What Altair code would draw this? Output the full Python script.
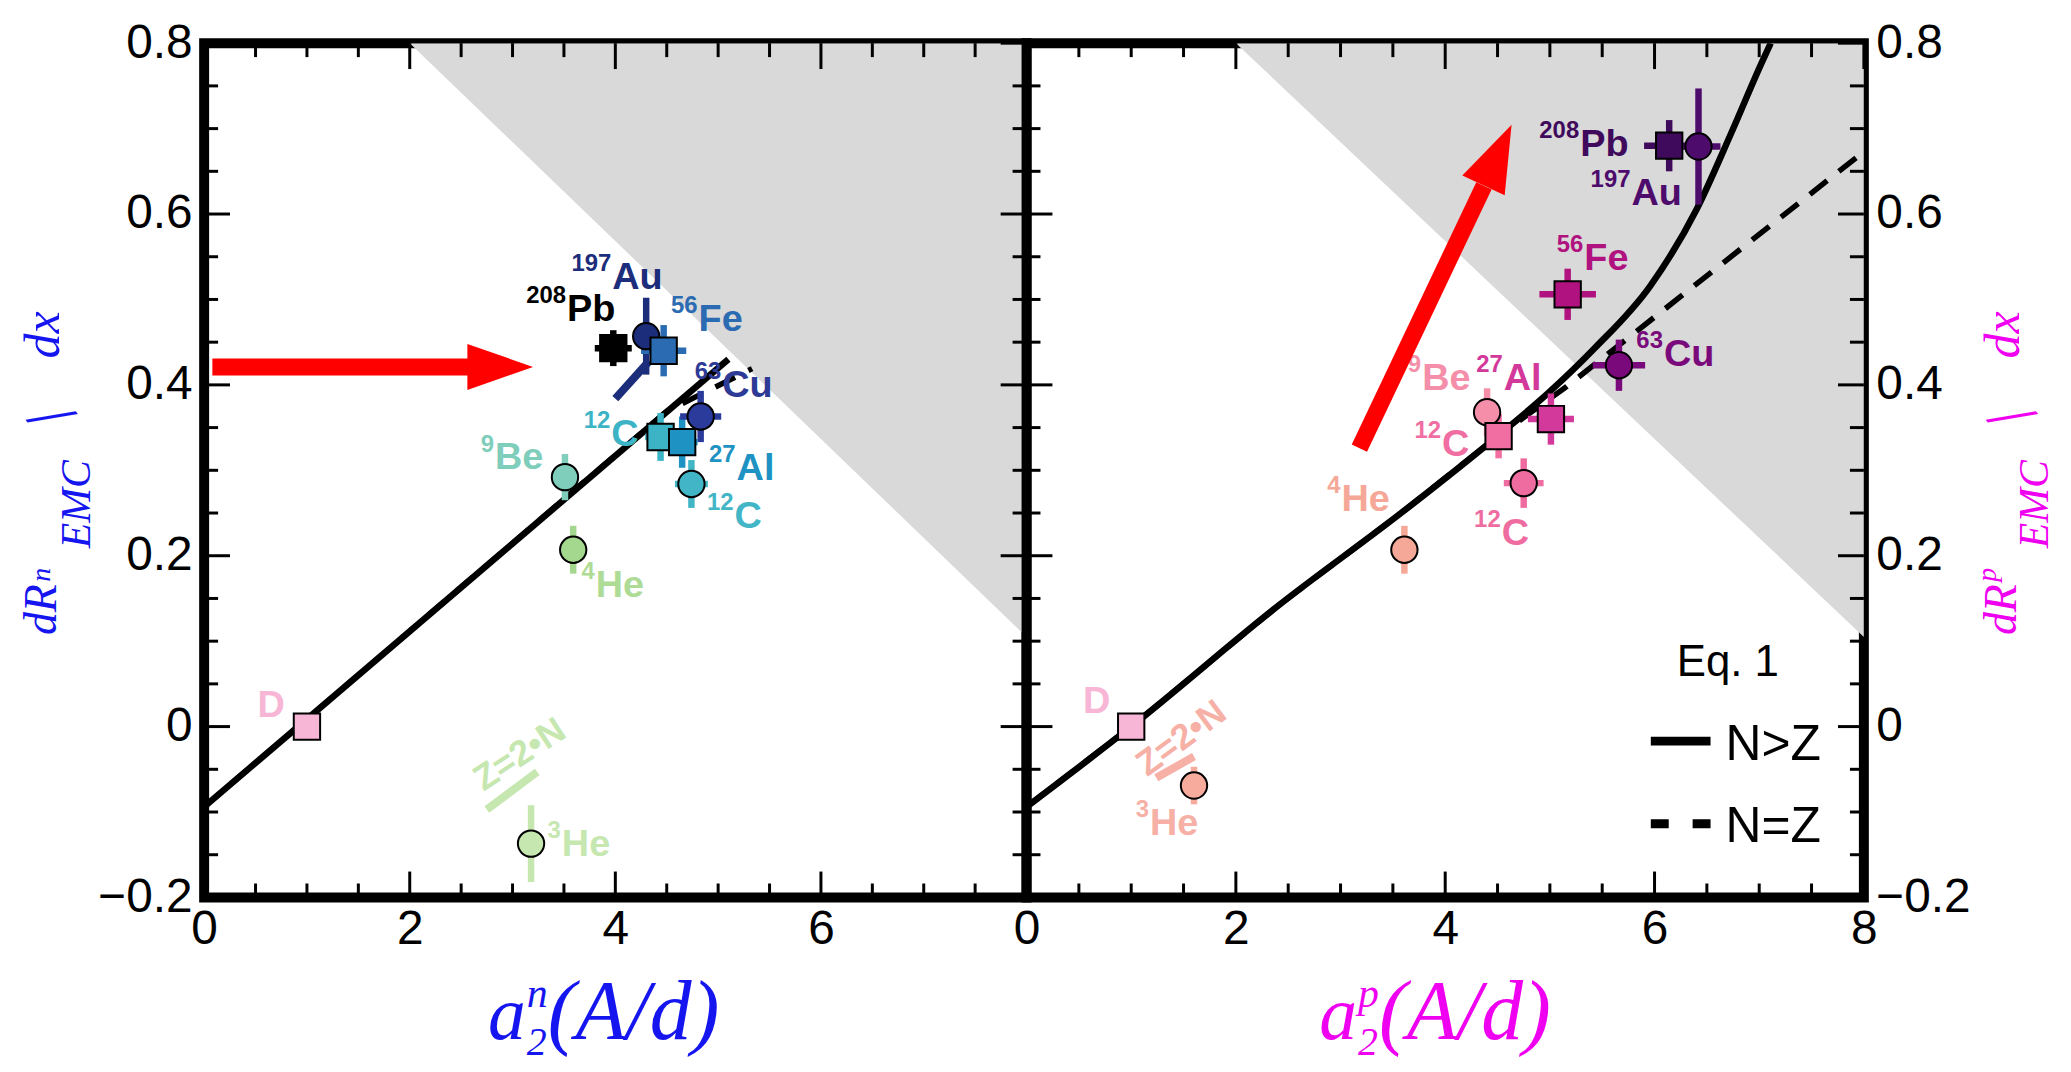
import altair as alt
import pandas as pd

# ---------------- tick values ----------------
X_MAJOR = [0, 2, 4, 6, 8]
X_MINOR = [0.5, 1, 1.5, 2.5, 3, 3.5, 4.5, 5, 5.5, 6.5, 7, 7.5]
Y_MAJOR = [-0.2, 0, 0.2, 0.4, 0.6, 0.8]
Y_MINOR = [-0.15, -0.1, -0.05, 0.05, 0.1, 0.15, 0.25, 0.3, 0.35, 0.45, 0.5,
           0.55, 0.65, 0.7, 0.75]

# ---------------- left panel (neutrons) ----------------
N_NUC = ["D", "3He", "4He", "9Be", "12C", "63Cu", "12C", "27Al", "197Au", "56Fe", "208Pb"]
N_SHAPE = ["square", "circle", "circle", "circle", "circle", "circle", "square",
           "square", "circle", "square", "square"]
N_X = [1.00, 3.18, 3.59, 3.51, 4.74, 4.83, 4.44, 4.65, 4.30, 4.47, 3.98]
N_Y = [0.000, -0.137, 0.207, 0.292, 0.284, 0.363, 0.339, 0.333, 0.457, 0.440, 0.443]
N_XERR = [0, 0, 0, 0, 0.16, 0.20, 0.15, 0.15, 0.10, 0.22, 0.18]
N_YERR = [0, 0.045, 0.028, 0.027, 0.028, 0.030, 0.028, 0.030, 0.045, 0.030, 0.021]
N_COLOR = ["#f7b6d5", "#c6e7b0", "#a3d88e", "#7fcdbb", "#42b5c6", "#2b3b9c",
           "#3db3c6", "#1e92c2", "#1c2d7c", "#2b6bb2", "#000000"]
N_LAB_SUP = ["", "3", "4", "9", "12", "63", "12", "27", "197", "56", "208"]
N_LAB_SYM = ["D", "He", "He", "Be", "C", "Cu", "C", "Al", "Au", "Fe", "Pb"]
N_LAB_X = [0.51, 3.47, 3.80, 2.82, 5.15, 5.03, 3.95, 5.17, 3.96, 4.80, 3.52]
N_LAB_Y = [0.011, -0.151, 0.152, 0.301, 0.233, 0.386, 0.328, 0.289, 0.512, 0.463, 0.475]
N_LAB_COLOR = ["#f7b6d5", "#c6e7b0", "#aedc96", "#7fcdbb", "#42b5c6", "#2d3a96",
               "#3db3c6", "#1e92c2", "#1c2d7c", "#2b6bb2", "#000000"]
N_SEG_X1, N_SEG_Y1, N_SEG_X2, N_SEG_Y2 = [4.33], [0.428], [4.00], [0.384]
N_SEG_COLOR = ["#1c2d7c"]
N_SOLID_X = [0.0, 5.10]
N_SOLID_Y = [-0.094, 0.430]
N_DASH_X = [0.0, 4.50, 5.33]
N_DASH_Y = [-0.094, 0.369, 0.419]
N_ZN = {"x": 3.07, "y": -0.033, "angle": 326.7, "color": "#c6e7b0",
        "lx1": 2.75, "ly1": -0.097, "lx2": 3.24, "ly2": -0.053}

# ---------------- right panel (protons) ----------------
P_NUC = ["D", "3He", "4He", "9Be", "12C", "12C", "27Al", "63Cu", "56Fe", "208Pb", "197Au"]
P_SHAPE = ["square", "circle", "circle", "circle", "circle", "square", "square",
           "circle", "square", "square", "circle"]
P_X = [1.00, 1.60, 3.61, 4.40, 4.75, 4.51, 5.01, 5.66, 5.17, 6.14, 6.42]
P_Y = [0.000, -0.069, 0.207, 0.368, 0.285, 0.340, 0.360, 0.423, 0.506, 0.680, 0.679]
P_XERR = [0, 0, 0, 0.07, 0.19, 0.09, 0.22, 0.25, 0.27, 0.24, 0.21]
P_YERR = [0, 0.022, 0.028, 0.028, 0.029, 0.026, 0.030, 0.030, 0.030, 0.030, 0.068]
P_COLOR = ["#f7b6d5", "#f6ab9d", "#f6a898", "#f48ea9", "#ee6c9f", "#f06ea1",
           "#d3399a", "#7a0a7b", "#b0127f", "#400a5c", "#4d0b6c"]
P_LAB_SUP = ["", "3", "4", "9", "12", "12", "27", "63", "56", "208", "197"]
P_LAB_SYM = ["D", "He", "He", "Be", "C", "C", "Al", "Cu", "Fe", "Pb", "Au"]
P_LAB_X = [0.53, 1.17, 3.00, 3.77, 4.53, 3.96, 4.55, 6.08, 5.32, 5.28, 5.77]
P_LAB_Y = [0.016, -0.127, 0.252, 0.394, 0.213, 0.317, 0.394, 0.422, 0.534, 0.668, 0.611]
P_LAB_COLOR = ["#f7b6d5", "#f6b0a6", "#f6a898", "#f48ea9", "#ee6c9f", "#f06ea1",
               "#d3399a", "#7a0a7b", "#b0127f", "#400a5c", "#4d0b6c"]
P_SOLID_X = [0.0, 1.0, 2.41, 3.60, 4.47, 4.98, 5.42, 5.96, 6.40, 6.73, 7.02, 7.11]
P_SOLID_Y = [-0.094, 0.0, 0.142, 0.252, 0.337, 0.390, 0.442, 0.516, 0.605, 0.694, 0.776, 0.80]
P_DASH_X = [0.0, 1.0, 2.41, 3.60, 4.47, 5.16, 8.0]
P_DASH_Y = [-0.094, 0.0, 0.142, 0.252, 0.337, 0.398, 0.673]
P_ZN = {"x": 1.48, "y": -0.014, "angle": 323.7, "color": "#f6b0a6",
        "lx1": 1.24, "ly1": -0.060, "lx2": 1.60, "ly2": -0.035}

# shaded region and arrows
SHADE_X = [2.0, 8.0]
SHADE_Y = [0.80, 0.105]
N_ARROW = {"x1": 0.08, "y1": 0.421, "x2": 2.60, "y2": 0.421, "hx": 2.88, "hy": 0.421,
           "angle": 0, "size": 4356}
P_ARROW = {"x1": 3.18, "y1": 0.326, "x2": 4.37, "y2": 0.633, "hx": 4.50, "hy": 0.669,
           "angle": 294.9, "size": 4489}

H = 858
SERIF = "Liberation Serif"
SANS = "Liberation Sans"
ARROW_PATH = "M-1,-0.7L1,0L-1,0.7Z"


def ptext(text, px, py, size, color, font=SANS, style="normal", weight="normal",
          align="center", angle=0):
    return alt.Chart(pd.DataFrame({"t": [text]})).mark_text(
        align=align, baseline="alphabetic", fontSize=size, font=font,
        fontStyle=style, fontWeight=weight, angle=angle, color=color
    ).encode(x=alt.value(px), y=alt.value(py), text="t:N")


def make_panel(side, W, nuc, shape, xs_, ys_, xerr, yerr, cols, lsup, lsym, lx, ly, lcol,
               solid_x, solid_y, dash_x, dash_y, zn, arrow, title_color, segs=None):
    xsc = alt.Scale(domain=[0, 8], nice=False, zero=False)
    ysc = alt.Scale(domain=[-0.2, 0.8], nice=False, zero=False)
    xvals = [0, 2, 4, 6] if side == "left" else [0, 2, 4, 6, 8]
    xax = alt.Axis(values=xvals, title="", ticks=False, domain=False, grid=False,
                   labelFontSize=48, labelFont=SANS, labelColor="black",
                   labelPadding=8, labelFlush=False, labelOverlap=False)
    yax = alt.Axis(orient=side, values=Y_MAJOR, title="", ticks=False, domain=False,
                   grid=False, labelFontSize=48, labelFont=SANS, labelColor="black",
                   labelPadding=12, labelFlush=False, labelOverlap=False,
                   labelExpr="datum.value == 0 ? '0' : (datum.value < 0 ? '\u2212' + format(-datum.value, '.1f') : format(datum.value, '.1f'))")

    def X(f):
        return alt.X(f, type="quantitative", scale=xsc, axis=xax)

    def Y(f):
        return alt.Y(f, type="quantitative", scale=ysc, axis=yax)

    layers = []
    sh = pd.DataFrame({"x": SHADE_X, "y": SHADE_Y, "top": [0.8] * len(SHADE_X)})
    layers.append(alt.Chart(sh).mark_area(color="#d9d9d9", clip=True).encode(
        x=X("x"), y=Y("y"), y2=alt.Y2("top")))
    dd = pd.DataFrame({"x": dash_x, "y": dash_y})
    layers.append(alt.Chart(dd).mark_line(color="black", strokeWidth=5.5,
                                          strokeDash=[22, 15], clip=True).encode(
        x=X("x"), y=Y("y")))
    sd = pd.DataFrame({"x": solid_x, "y": solid_y})
    layers.append(alt.Chart(sd).mark_line(color="black", strokeWidth=6.5,
                                          interpolate="monotone", clip=True).encode(
        x=X("x"), y=Y("y")))
    df = pd.DataFrame({"nuc": nuc, "shape": shape, "x": xs_, "y": ys_, "xerr": xerr,
                       "yerr": yerr, "c": cols})
    df["xlo"] = df["x"] - df["xerr"]
    df["xhi"] = df["x"] + df["xerr"]
    df["ylo"] = df["y"] - df["yerr"]
    df["yhi"] = df["y"] + df["yerr"]
    dv = df[df["yerr"] > 0]
    dh = df[df["xerr"] > 0]
    layers.append(alt.Chart(dv).mark_rule(strokeWidth=6.5, strokeCap="butt").encode(
        x=X("x"), y=Y("ylo"), y2=alt.Y2("yhi"), color=alt.Color("c:N", scale=None)))
    layers.append(alt.Chart(dh).mark_rule(strokeWidth=6.5, strokeCap="butt").encode(
        x=X("xlo"), x2=alt.X2("xhi"), y=Y("y"), color=alt.Color("c:N", scale=None)))
    if segs is not None:
        sg = pd.DataFrame(segs)
        layers.append(alt.Chart(sg).mark_rule(strokeWidth=8, strokeCap="butt").encode(
            x=X("x1"), y=Y("y1"), x2=alt.X2("x2"), y2=alt.Y2("y2"),
            color=alt.Color("c:N", scale=None)))
    layers.append(alt.Chart(df).mark_point(filled=True, size=700, stroke="black",
                                           strokeWidth=2, opacity=1).encode(
        x=X("x"), y=Y("y"), shape=alt.Shape("shape:N", scale=None),
        fill=alt.Fill("c:N", scale=None)))
    lab = pd.DataFrame({"x": lx, "y": ly, "sup": lsup, "sym": lsym, "c": lcol})
    layers.append(alt.Chart(lab).mark_text(align="right", baseline="alphabetic", dy=-18,
                                           fontSize=24, font=SANS, fontWeight="bold").encode(
        x=X("x"), y=Y("y"), text="sup:N", color=alt.Color("c:N", scale=None)))
    layers.append(alt.Chart(lab).mark_text(align="left", baseline="alphabetic", dx=1,
                                           fontSize=38, font=SANS, fontWeight="bold").encode(
        x=X("x"), y=Y("y"), text="sym:N", color=alt.Color("c:N", scale=None)))
    zdf = pd.DataFrame({"x": [zn["x"]], "y": [zn["y"]], "t": ["Z=2\u2022N"]})
    layers.append(alt.Chart(zdf).mark_text(align="center", baseline="middle", fontSize=36,
                                           font=SANS, fontWeight="bold", angle=zn["angle"],
                                           color=zn["color"]).encode(
        x=X("x"), y=Y("y"), text="t:N"))
    zl = pd.DataFrame({"x1": [zn["lx1"]], "y1": [zn["ly1"]], "x2": [zn["lx2"]], "y2": [zn["ly2"]]})
    layers.append(alt.Chart(zl).mark_rule(strokeWidth=8, color=zn["color"], strokeCap="butt").encode(
        x=X("x1"), y=Y("y1"), x2=alt.X2("x2"), y2=alt.Y2("y2")))
    ad = pd.DataFrame({"x1": [arrow["x1"]], "y1": [arrow["y1"]], "x2": [arrow["x2"]],
                       "y2": [arrow["y2"]], "hx": [arrow["hx"]], "hy": [arrow["hy"]]})
    layers.append(alt.Chart(ad).mark_rule(strokeWidth=17, color="#ff0000", strokeCap="butt").encode(
        x=X("x1"), y=Y("y1"), x2=alt.X2("x2"), y2=alt.Y2("y2")))
    layers.append(alt.Chart(ad).mark_point(shape=ARROW_PATH, size=arrow["size"], filled=True,
                                           color="#ff0000", opacity=1, strokeWidth=0,
                                           angle=arrow["angle"]).encode(
        x=X("hx"), y=Y("hy")))
    for vals, ln in ((X_MAJOR, 26), (X_MINOR, 14)):
        td = pd.DataFrame({"t": vals})
        layers.append(alt.Chart(td).mark_rule(color="black", strokeWidth=3).encode(
            x=X("t"), y=alt.value(H), y2=alt.value(H - ln)))
        layers.append(alt.Chart(td).mark_rule(color="black", strokeWidth=3).encode(
            x=X("t"), y=alt.value(0), y2=alt.value(ln)))
    for vals, ln in ((Y_MAJOR, 26), (Y_MINOR, 14)):
        td = pd.DataFrame({"t": vals})
        layers.append(alt.Chart(td).mark_rule(color="black", strokeWidth=3).encode(
            y=Y("t"), x=alt.value(0), x2=alt.value(ln)))
        layers.append(alt.Chart(td).mark_rule(color="black", strokeWidth=3).encode(
            y=Y("t"), x=alt.value(W), x2=alt.value(W - ln)))

    # axis titles built from pieces (sub/superscripts)
    if side == "left":
        bx, sbx, spx = -149, -115, -155
        sup = "n"
        ax_r = 323
    else:
        bx, sbx, spx = W + 153, W + 185, W + 133
        sup = "p"
        ax_r = 332
    for t, px, py, sz, ang in (("dR", bx, 569, 46, 270), (sup, spx, 534, 28, 270),
                               ("EMC", sbx, 463, 42, 270), ("/", bx + 14, 363, 68, 233),
                               ("dx", bx + 3, 293, 50, 270)):
        layers.append(ptext(t, px, py, sz, title_color, font=SERIF, style="italic",
                            angle=ang))
    layers.append(ptext("a", ax_r, H + 142, 76, title_color, font=SERIF, style="italic",
                        align="right"))
    layers.append(ptext(sup, ax_r + 1, H + 110, 42, title_color, font=SERIF, style="italic",
                        align="left"))
    layers.append(ptext("2", ax_r + 1, H + 158, 40, title_color, font=SERIF, style="italic",
                        align="left"))
    layers.append(ptext("(A/d)", ax_r + 22, H + 142, 84, title_color, font=SERIF,
                        style="italic", align="left"))

    if side == "right":
        layers.append(ptext("Eq. 1", 653, 636, 44, "black", align="left"))
        layers.append(alt.Chart(pd.DataFrame({"a": [0]})).mark_rule(
            color="black", strokeWidth=9, strokeCap="butt").encode(
            x=alt.value(627), x2=alt.value(687), y=alt.value(701)))
        layers.append(ptext("N>Z", 702, 720, 50, "black", align="left"))
        layers.append(alt.Chart(pd.DataFrame({"a": [0]})).mark_rule(
            color="black", strokeWidth=9, strokeCap="butt", strokeDash=[18, 24]).encode(
            x=alt.value(627), x2=alt.value(687), y=alt.value(784)))
        layers.append(ptext("N=Z", 702, 802, 50, "black", align="left"))

    return alt.layer(*layers).properties(width=W, height=H)


left = make_panel("left", 826, N_NUC, N_SHAPE, N_X, N_Y, N_XERR, N_YERR, N_COLOR,
                  N_LAB_SUP, N_LAB_SYM, N_LAB_X, N_LAB_Y, N_LAB_COLOR,
                  N_SOLID_X, N_SOLID_Y, N_DASH_X, N_DASH_Y, N_ZN, N_ARROW, "#1515f0",
                  segs={"x1": N_SEG_X1, "y1": N_SEG_Y1, "x2": N_SEG_X2, "y2": N_SEG_Y2,
                        "c": N_SEG_COLOR})
right = make_panel("right", 841, P_NUC, P_SHAPE, P_X, P_Y, P_XERR, P_YERR, P_COLOR,
                   P_LAB_SUP, P_LAB_SYM, P_LAB_X, P_LAB_Y, P_LAB_COLOR,
                   P_SOLID_X, P_SOLID_Y, P_DASH_X, P_DASH_Y, P_ZN, P_ARROW, "#f000f0")

chart = alt.hconcat(left, right, spacing=0, bounds="flush").configure_view(
    stroke="black", strokeWidth=10
).properties(padding={"left": 6, "top": 4, "right": 2, "bottom": 2})

chart.save("out.html", embed_options={"renderer": "svg", "actions": False})
